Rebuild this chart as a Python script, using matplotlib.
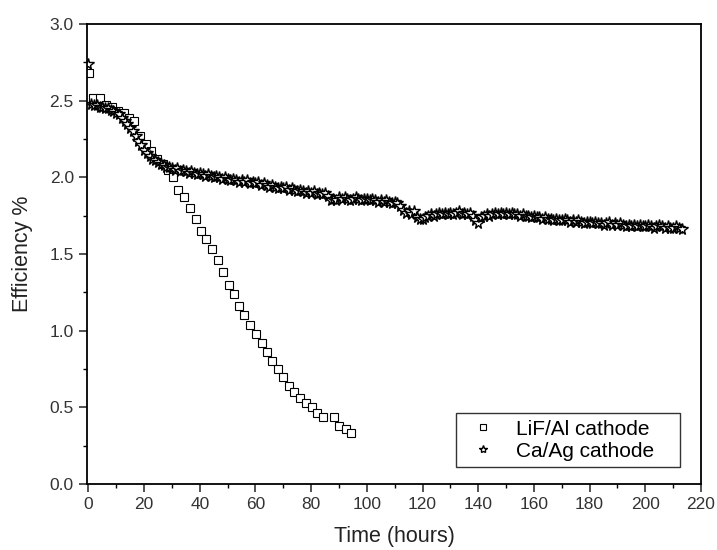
import numpy as np
import matplotlib
matplotlib.use("Agg")
import matplotlib.pyplot as plt
from matplotlib.ticker import MultipleLocator

plt.rcParams['font.family'] = ['Liberation Sans', 'DejaVu Sans']

# LiF/Al cathode (open squares)
lif_time = [0.4, 1.8, 4.3, 6.5, 8.5, 10.7, 12.8, 14.5, 16.4, 18.5, 20.6,
            22.5, 24.6, 26.8, 28.6, 30.4, 32.2, 34.4, 36.6, 38.7, 40.5,
            42.3, 44.4, 46.6, 48.4, 50.4, 52.3, 54.1, 55.9, 58.1, 60.2,
            62.4, 64.1, 65.9, 68.1, 69.9, 72.0, 73.8, 76.0, 78.1, 80.3,
            82.1, 84.2, 88.2, 90.0, 92.5, 94.3]
lif_eff = [2.68, 2.52, 2.52, 2.47, 2.46, 2.43, 2.42, 2.39, 2.37, 2.27, 2.22,
           2.17, 2.12, 2.09, 2.05, 2.00, 1.92, 1.87, 1.80, 1.73, 1.65,
           1.60, 1.53, 1.46, 1.38, 1.30, 1.24, 1.16, 1.10, 1.04, 0.98,
           0.92, 0.86, 0.80, 0.75, 0.70, 0.64, 0.60, 0.56, 0.53, 0.50,
           0.46, 0.44, 0.44, 0.38, 0.36, 0.33]

# Ca/Ag cathode (open stars), one reading per hour
ca_time = np.arange(0, 214)
ca_eff = [2.74, 2.48, 2.47, 2.47, 2.46, 2.46, 2.45, 2.45, 2.44, 2.43,
          2.42, 2.41, 2.39, 2.37, 2.35, 2.32, 2.30, 2.27, 2.24, 2.21,
          2.18, 2.16, 2.14, 2.12, 2.11, 2.10, 2.09, 2.08, 2.07, 2.07,
          2.06, 2.05, 2.06, 2.04, 2.05, 2.04, 2.03, 2.04, 2.03, 2.02,
          2.03, 2.02, 2.01, 2.02, 2.01, 2.00, 2.01, 2.00, 1.99, 2.00,
          1.99, 1.98, 1.99, 1.98, 1.97, 1.98, 1.97, 1.98, 1.96, 1.97,
          1.96, 1.97, 1.95, 1.96, 1.95, 1.94, 1.95, 1.94, 1.93, 1.94,
          1.93, 1.94, 1.92, 1.93, 1.92, 1.91, 1.92, 1.91, 1.90, 1.91,
          1.90, 1.91, 1.89, 1.90, 1.89, 1.90, 1.88, 1.85, 1.86, 1.85,
          1.87, 1.86, 1.87, 1.86, 1.85, 1.86, 1.87, 1.86, 1.85, 1.86,
          1.86, 1.85, 1.86, 1.85, 1.84, 1.85, 1.84, 1.85, 1.84, 1.83,
          1.84, 1.83, 1.81, 1.79, 1.77, 1.78, 1.76, 1.78, 1.74, 1.73,
          1.73, 1.74, 1.75, 1.76, 1.75, 1.76, 1.77, 1.76, 1.77, 1.76,
          1.77, 1.76, 1.77, 1.78, 1.76, 1.77, 1.76, 1.77, 1.75, 1.72,
          1.70, 1.74, 1.75, 1.76, 1.75, 1.76, 1.77, 1.76, 1.77, 1.76,
          1.77, 1.76, 1.77, 1.76, 1.76, 1.75, 1.76, 1.75, 1.75, 1.74,
          1.75, 1.74, 1.74, 1.73, 1.74, 1.73, 1.73, 1.72, 1.73, 1.72,
          1.72, 1.73, 1.72, 1.71, 1.72, 1.71, 1.72, 1.71, 1.70, 1.71,
          1.71, 1.70, 1.71, 1.70, 1.70, 1.69, 1.70, 1.71, 1.69, 1.70,
          1.69, 1.70, 1.69, 1.68, 1.69, 1.68, 1.69, 1.68, 1.69, 1.68,
          1.68, 1.69, 1.68, 1.67, 1.68, 1.69, 1.68, 1.67, 1.68, 1.67,
          1.67, 1.68, 1.67, 1.66]

fig = plt.figure(figsize=(7.17, 5.5), dpi=100)
ax = fig.add_axes([0.1213, 0.12, 0.8564, 0.8364])

ax.plot(lif_time, lif_eff, linestyle='none', marker='s', ms=5.5,
        mfc='white', mec='black', mew=0.8, label='LiF/Al cathode')
ax.plot(ca_time, ca_eff, linestyle='none', marker='*', ms=8.5,
        mfc='white', mec='black', mew=1.0, label='Ca/Ag cathode')

ax.set_xlim(-0.5, 220)
ax.set_ylim(0, 3.0)
ax.xaxis.set_major_locator(MultipleLocator(20))
ax.xaxis.set_minor_locator(MultipleLocator(10))
ax.yaxis.set_major_locator(MultipleLocator(0.5))
ax.yaxis.set_minor_locator(MultipleLocator(0.25))
ax.yaxis.set_major_formatter(plt.FormatStrFormatter('%.1f'))
ax.tick_params(which='major', direction='out', length=6, width=1.2,
               labelsize=12.5, top=False, right=False, colors='#333333',
               labelcolor='#333333')
ax.tick_params(which='minor', direction='out', length=3, width=1.0,
               top=False, right=False)
for s in ax.spines.values():
    s.set_linewidth(1.3)

ax.set_xlabel('Time (hours)', fontsize=15.5, labelpad=10, color='#222222')
ax.set_ylabel('Efficiency %', fontsize=15.5, labelpad=12, color='#222222')

leg = ax.legend(loc='lower left', bbox_to_anchor=(0.601, 0.037, 0.365, 0.117),
                mode='expand', borderaxespad=0, fontsize=15,
                frameon=True, fancybox=False, edgecolor='black',
                handlelength=2.0, handletextpad=0.6, borderpad=0.3,
                labelspacing=0.15, markerscale=0.7)
leg.get_frame().set_linewidth(1.0)

fig.savefig('out.png', dpi=100)
